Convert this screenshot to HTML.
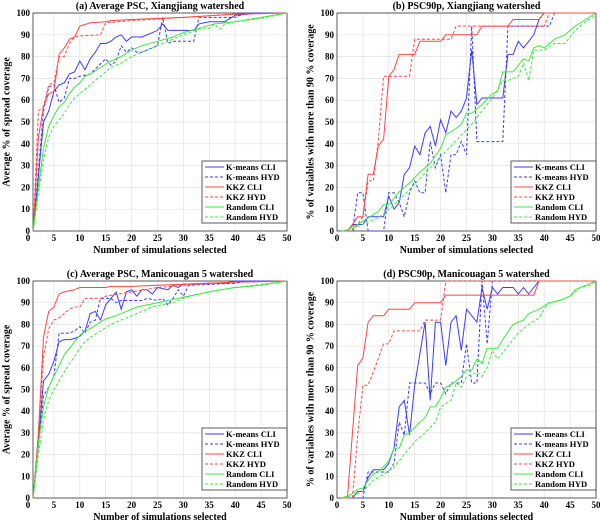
<!DOCTYPE html>
<html><head><meta charset="utf-8"><style>
body{margin:0;background:#fff;width:600px;height:522px;overflow:hidden}
svg{font-family:"Liberation Serif",serif;font-weight:bold}
</style></head><body>
<svg id="c" width="600" height="522"></svg>
<script>
// Panel (a)
const aKmCliX=[1,2,3,4,5,6,7,8,9,10,11,12,13,14,15,16,17,18,19,20,22,25,26,27,30,32,33,35,38,40,45,50];
const aKmCliY=[0,25,50,55,64,67,68,72,73,78,74,79,82,86,86,87,89,90,87,89,89,92,95,92,92,92,95,96,96,99,100,100];
const aKmHydX=[1,2,3,4,5,6,7,8,9,10,12,15,16,17,18,19,20,21,22,25,26,27,28,30,32,33,35,38,40,42,50];
const aKmHydY=[0,28,55,66,67,59,61,70,70,71,72,79,76,78,85,82,84,82,82,85,98,86,87,87,87,98,98,98,98,100,100];
const aKkzCliX=[1,2,3,4,5,6,7,8,9,10,12,15,16,20,30,40,50];
const aKkzCliY=[0,43,57,63,64,81,84,88,89,94,95.5,96,96.5,97,98,99.5,100];
const aKkzHydX=[1,2,3,4,5,6,7,8,9,10,14,15,20,30,40,50];
const aKkzHydY=[0,55,57,67,68,80,80,86,89,89.5,90,95.5,96.5,98,99.5,100];
const aRndCliX=[1,2,3,4,5,6,7,8,9,10,11,12,14,16,18,20,22,25,28,30,33,36,40,45,50];
const aRndCliY=[0,20,38,48,53,57,59,63,66,68,71,72,75,78,80,83,85,87,89,91,93,95,96,98,100];
const aRndHydX=[1,2,3,4,5,6,7,8,9,10,12,14,16,18,20,22,25,30,33,35,36,37,38,40,45,50];
const aRndHydY=[0,17,33,43,48,51,54,58,61,63,67,71,75,77,80,82,85,90,92.5,93,95,92.5,95,96,97.5,100];
// Panel (b)
const bKmCliX=[1,2,3,4,5,6,9,10,11,12,13,14,15,16,17,18,19,20,21,22,23,24,25,26,27,28,32,33,34,35,36,38,39,40,50];
const bKmCliY=[0,0,3,3,3,6.5,6.5,16,10,13,26,29,39,35,45,48,39,51,45,55,52,55,61,83,58,61,61,81,81,87,84,90,97,100,100];
const bKmHydX=[1,3,4,5,6,9,10,11,12,13,14,15,16,17,18,19,20,21,22,23,24,25,26,27,32,33,41,42,50];
const bKmHydY=[0,0,17.5,17.5,0,0,17.5,17.5,13,6.5,17.5,23,17.5,17.5,41,29,35,17.5,35,35,41,35,94,41,41,94,94,100,100];
const bKkzCliX=[1,2,3,4,5,6,7,8,9,10,11,12,15,16,20,21,27,28,33,34,39,40,50];
const bKkzCliY=[0,0,3,6.5,6.5,26,26,39,42,71,74,81,81,87,87,90,90,94,94,97,97,100,100];
const bKkzHydX=[1,3,4,5,6,7,8,9,14,15,22,23,40,41,50];
const bKkzHydY=[0,0,3,6.5,23,23,42,71,71,88,88,94,94,100,100];
const bRndCliX=[1,2,4,6,8,9,10,12,14,16,18,20,21,23,24,25,26,28,30,31,32,34,36,37,38,39,40,42,44,46,48,50];
const bRndCliY=[0,0.5,3,6,9,12,12,18,22,27,31,38,44,47,49,54,54,58,63,64,73,73,79,78,84,85,84,88,90,94,97,100];
const bRndHydX=[1,3,5,8,10,12,14,16,18,20,22,24,26,28,30,32,33,35,36,37,38,40,42,44,46,48,50];
const bRndHydY=[0,1,3,6,10,14,19,24,29,34,39,44,49,55,61,69,69,71,77,69,83,83,86,86,92,96,99];
// Panel (c)
const cKmCliX=[1,2,3,4,5,6,7,8,9,10,11,12,13,14,15,16,17,18,19,20,21,22,23,24,25,27,28,29,30,35,38,40,50];
const cKmCliY=[0,26,54,57,63,72,73,73,73.5,74.5,77,85,86,82,89,92,95,87,95,96,93,96,96,94,97,96,98,97,98.5,99,99,100,100];
const cKmHydX=[1,2,3,4,5,6,8,9,10,11,12,13,14,15,16,17,18,20,22,23,25,26,27,28,29,30,31,40,41,50];
const cKmHydY=[0,24,47,51,56,76,76,77,79,76,81,82,92,92,92,90,91,91,91,92,91,92,89,92,96,93,98,99,99.5,100];
const cKkzCliX=[1,2,3,4,5,6,7,8,9,10,15,16,20,25,30,40,50];
const cKkzCliY=[0,30,74,86,88,94,95,95.5,96,97,97,97.5,97.5,98,98.5,99.5,100];
const cKkzHydX=[1,2,3,4,5,6,7,8,9,10,11,14,15,20,25,30,40,50];
const cKkzHydY=[0,28,65,78,82,83,85,87,88,88,92,92,93,95,97,98,99.5,100];
const cRndCliX=[1,2,3,4,5,6,7,8,9,10,11,12,14,15,17,19,21,23,25,28,30,33,36,40,45,50];
const cRndCliY=[0,25,42,51,56,61,66,69,72,75,77,78,81,82.5,84,86,88,89,90,91.5,92.5,94,95.5,97,98,100];
const cRndHydX=[1,2,3,4,5,6,7,8,9,10,11,12,14,16,18,20,22,24,26,28,30,33,36,40,45,50];
const cRndHydY=[0,20,36,45,50,54,58,62,65,69,72,74,77,80,82,84,86,88,89,90,92,94,95.5,97,98.5,100];
// Panel (d)
const dKmCliX=[1,3,4,5,6,7,9,10,11,12,13,14,15,17,18,19,20,21,22,23,24,25,27,28,29,30,31,32,34,35,36,37,38,39,50];
const dKmCliY=[0,0,3,3,9.5,13,13,16,23,42,45,29,52,81,45,81,81,61,81,84,68,87,81,97,87,97,94,97,97,94,97,94,97,100,100];
const dKmHydX=[1,5,6,8,10,11,12,13,14,17,18,19,20,21,22,24,25,26,27,28,29,30,50];
const dKmHydY=[0,0,12,12,12,16,35,29,53,53,48,53,53,48,53,53,71,53,53,100,71,100,100];
const dKkzCliX=[1,2,4,5,6,7,9,10,14,15,20,21,38,39,50];
const dKkzCliY=[0,0,61,64.5,81,84,84,87,87,90,90,93.5,93.5,100,100];
const dKkzHydX=[1,3,4,5,6,7,9,10,11,16,17,20,21,50];
const dKkzHydY=[0,0,29,52,52,58,71,71,77,77,82,82,100,100];
const dRndCliX=[1,3,4,5,6,7,8,10,11,12,13,14,16,17,18,19,20,21,22,24,25,26,27,28,29,30,31,32,34,36,37,39,41,43,45,46,48,50];
const dRndCliY=[0,2,4,4.5,8,11,12,17,23,23,29,30,35,37,42,42,46,51,52,56,59,59,64,62,69,69,69,73,80,82,85,87,90,91,93,96,98,100];
const dRndHydX=[1,3,5,7,9,11,13,15,17,19,20,22,23,24,25,27,28,29,30,31,33,35,37,39,40,41,43,45,47,49,50];
const dRndHydY=[0,1,3,8,11,14,20,26,30,35,42,45,53,51,56,58,56,60,68,64,70,76,80,83,87,90,91,93,97,98,100];

const yTicks=[0,10,20,30,40,50,60,70,80,90,100];
const xTicks=[0,5,10,15,20,25,30,35,40,45,50];
const legendNames=["K-means CLI","K-means HYD","KKZ CLI","KKZ HYD","Random CLI","Random HYD"];
const colors=["#3b3bff","#3b3bff","#ff4545","#ff4545","#3ce83c","#3ce83c"];
const dashed=[false,true,false,true,false,true];

const panels=[
 {id:"a",title:"(a) Average PSC, Xiangjiang watershed",ylab:"Average % of spread coverage",X0:28,L:33,R:287,T:13,B:231,ylx:7,
  s:[[aKmCliX,aKmCliY],[aKmHydX,aKmHydY],[aKkzCliX,aKkzCliY],[aKkzHydX,aKkzHydY],[aRndCliX,aRndCliY],[aRndHydX,aRndHydY]]},
 {id:"b",title:"(b) PSC90p, Xiangjiang watershed",ylab:"% of variables with more than 90 % coverage",X0:337,L:337,R:596,T:13,B:231,ylx:311,
  s:[[bKmCliX,bKmCliY],[bKmHydX,bKmHydY],[bKkzCliX,bKkzCliY],[bKkzHydX,bKkzHydY],[bRndCliX,bRndCliY],[bRndHydX,bRndHydY]]},
 {id:"c",title:"(c) Average PSC, Manicouagan 5 watershed",ylab:"Average % of spread coverage",X0:28,L:33,R:287,T:281,B:498,ylx:7,
  s:[[cKmCliX,cKmCliY],[cKmHydX,cKmHydY],[cKkzCliX,cKkzCliY],[cKkzHydX,cKkzHydY],[cRndCliX,cRndCliY],[cRndHydX,cRndHydY]]},
 {id:"d",title:"(d) PSC90p, Manicouagan 5 watershed",ylab:"% of variables with more than 90 % coverage",X0:337,L:337,R:596,T:281,B:498,ylx:311,
  s:[[dKmCliX,dKmCliY],[dKmHydX,dKmHydY],[dKkzCliX,dKkzCliY],[dKkzHydX,dKkzHydY],[dRndCliX,dRndCliY],[dRndHydX,dRndHydY]]}
];
const NS="http://www.w3.org/2000/svg";
const svg=document.getElementById("c");
function mk(tag,attrs,parent,text){const e=document.createElementNS(NS,tag);for(const k in attrs)e.setAttribute(k,attrs[k]);if(text!==undefined)e.textContent=text;(parent||svg).appendChild(e);return e;}
panels.forEach(p=>{
 const g=mk("g",{});
 
 
 const sx=v=>p.X0+(v/50)*(p.R-p.X0), sy=v=>p.B-(v/100)*(p.B-p.T);
 mk("rect",{x:p.L,y:p.T,width:p.R-p.L,height:p.B-p.T,fill:"#fff"},g);
 yTicks.forEach(t=>{
  const l=mk("line",{x1:p.L,x2:p.R,y1:sy(t),y2:sy(t),stroke:"#e2e2e2","stroke-width":0.7},g);
  
  
  const tx=mk("text",{x:p.L-3,y:sy(t)+3,"text-anchor":"end","font-size":9},g,t);
  
  
 });
 xTicks.forEach(t=>{
  if(sx(t)>=p.L-0.5){
   const l=mk("line",{y1:p.T,y2:p.B,x1:sx(t),x2:sx(t),stroke:"#e2e2e2","stroke-width":0.7},g);
   
   
  }
  const tx=mk("text",{x:sx(t),y:p.B+10,"text-anchor":"middle","font-size":9},g,t);
  
  
 });
 const fr=mk("rect",{x:p.L,y:p.T,width:p.R-p.L,height:p.B-p.T,fill:"none",stroke:"#333","stroke-width":0.8},g);
 
 
 p.s.forEach((s,i)=>{
  const pts=s[0].map((x,j)=>sx(x).toFixed(1)+","+sy(s[1][j]).toFixed(1)).join(" ");
  const pl=mk("polyline",{points:pts,fill:"none",stroke:colors[i],"stroke-width":1,"stroke-dasharray":dashed[i]?"3,2":"none"},g);
  
  
 });
 const tt=mk("text",{x:(p.L+p.R)/2,y:p.T-4,"text-anchor":"middle","font-size":10},g,p.title);
 
 
 const xl=mk("text",{x:(p.L+p.R)/2,y:p.B+22,"text-anchor":"middle","font-size":10},g,"Number of simulations selected");
 
 
 const cy=(p.T+p.B)/2;
 const yl=mk("text",{x:p.ylx,y:cy,"text-anchor":"middle","font-size":10,transform:`rotate(-90 ${p.ylx} ${cy})`,"dominant-baseline":"middle"},g,p.ylab);
 
 
 const lx=p.R-85, ly=p.B-70;
 const lg=mk("g",{},g);
 
 
 mk("rect",{x:lx,y:ly,width:85,height:62,fill:"#fff",stroke:"#333","stroke-width":0.8},lg);
 legendNames.forEach((n,i)=>{
  const yy=ly+6+i*10;
  const en=mk("g",{},lg);
  
  
  mk("line",{x1:lx+3,x2:lx+22,y1:yy,y2:yy,stroke:colors[i],"stroke-width":1,"stroke-dasharray":dashed[i]?"3,2":"none"},en);
  mk("text",{x:lx+24,y:yy+3,"font-size":8.5},en,n);
 });
});
</script>
</body></html>
